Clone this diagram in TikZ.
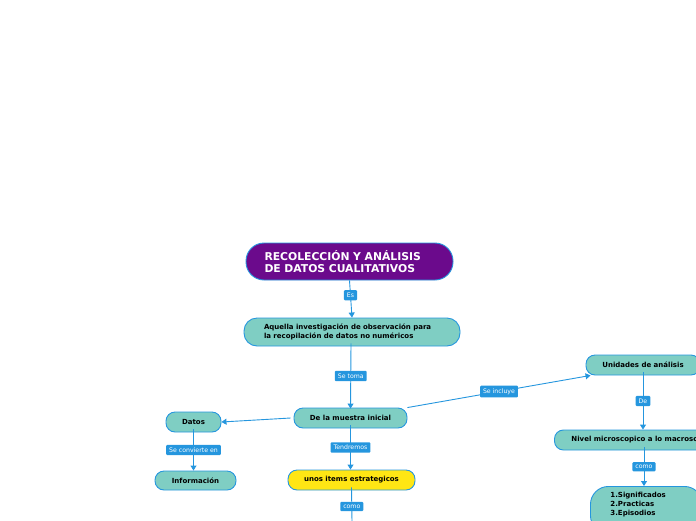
\documentclass[tikz,border=0pt]{standalone}
\usepackage{fontspec}
\setmainfont{DejaVu Sans}
\usetikzlibrary{arrows.meta}
\definecolor{cpurple}{HTML}{6B0A8C}
\definecolor{cteal}{HTML}{7FCEC3}
\definecolor{cyellow}{HTML}{FFE614}
\definecolor{cblue}{HTML}{2596DE}
\tikzset{
  box/.style={draw=cblue, line width=0.9pt, fill=cteal, rounded corners=9pt, inner sep=0pt, font=\fontsize{7}{8}\selectfont\bfseries, text=black},
  lab/.style={fill=cblue, text=white, font=\fontsize{6.2}{7}\selectfont, inner xsep=3pt, inner ysep=2.8pt, rounded corners=1pt},
  conn/.style={draw=cblue, line width=0.9pt, -{Triangle[length=5pt,width=6pt]}},
}
\begin{document}
\begin{tikzpicture}[x=1pt,y=-1pt]
\useasboundingbox (0,0) rectangle (696,520);
\clip (0,0) rectangle (696,520);
% nodes
\node[box, fill=cpurple, text=white, rounded corners=18pt, minimum width=207pt, minimum height=37pt, font=\fontsize{10.8}{11.5}\selectfont\bfseries, align=left, text width=170pt] (title) at (349.5,261.5) {RECOLECCIÓN Y ANÁLISIS\\DE DATOS CUALITATIVOS};
\node[box, rounded corners=13pt, minimum width=216pt, minimum height=28pt, align=left, text width=176pt, font=\fontsize{7}{9}\selectfont\bfseries] (aquella) at (352,332) {Aquella investigación de observación para\\la recopilación de datos no numéricos};
\node[box, minimum width=113pt, minimum height=20pt] (muestra) at (350.5,418) {De la muestra inicial};
\node[box, minimum width=55pt, minimum height=20pt] (datos) at (193.5,422) {Datos};
\node[box, minimum width=81pt, minimum height=19pt] (info) at (195.5,480.5) {Información};
\node[box, fill=cyellow, minimum width=127pt, minimum height=20pt] (items) at (351.5,480) {unos items estrategicos};
\node[box, minimum width=114pt, minimum height=20pt] (unidades) at (643,365) {Unidades de análisis};
\node[box, anchor=west, minimum height=20pt, inner xsep=17pt] (nivel) at (554,440) {Nivel microscopico a lo macroscopico};
\node[box, anchor=north west, rounded corners=18pt, align=left, inner xsep=20pt, inner ysep=6pt, text width=72pt, font=\fontsize{7}{9}\selectfont\bfseries] (lista) at (590,486) {1.Significados\\2.Practicas\\3.Episodios\\\strut};
\coordinate (itemsend) at (352,522);
% connectors
\draw[conn] (title.south) -- node[lab, pos=0.4]{Es} (aquella.north);
\draw[conn] ([xshift=-1pt]aquella.south) ++(0,3pt) -- node[lab]{Se toma} ([yshift=-1pt]muestra.north);
\draw[conn] ([xshift=-3pt]muestra.west) -- (datos.east);
\draw[conn] ([yshift=3pt]datos.south) -- node[lab]{Se convierte en} (datos.south |- info.north);
\draw[conn] ([yshift=3pt]muestra.south) -- node[lab]{Tendremos} (muestra.south |- items.north);
\draw[draw=cblue, line width=0.9pt] ([yshift=3pt]items.south) -- node[lab, pos=0.55]{como} (itemsend);
\draw[conn] (muestra.north east) -- node[lab]{Se incluye} ([xshift=5pt]unidades.south west);
\draw[conn] ([yshift=3pt]unidades.south) -- node[lab]{De} (unidades.south |- nivel.north);
\draw[conn] ([xshift=90pt,yshift=3pt]nivel.south west) -- node[lab]{como} ([xshift=90pt]nivel.south west |- lista.north);
\end{tikzpicture}
\end{document}
